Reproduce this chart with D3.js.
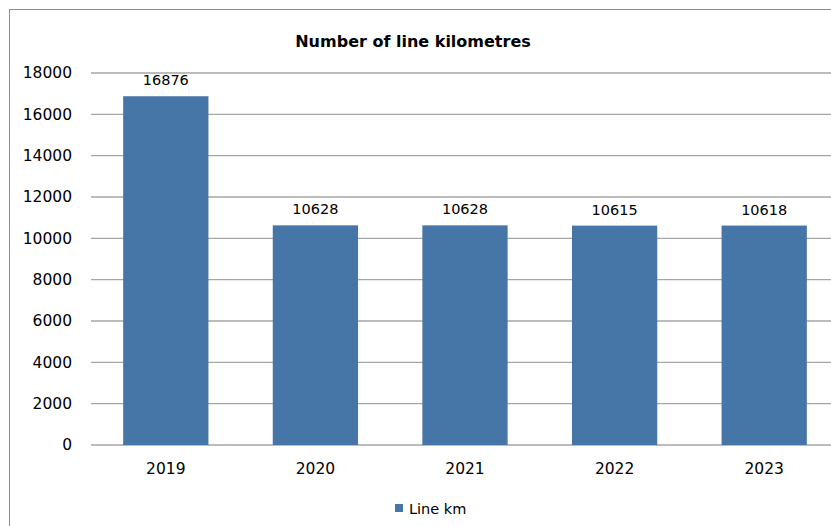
<!DOCTYPE html>
<html>
<head>
<meta charset="utf-8">
<script src="https://cdn.jsdelivr.net/npm/d3@7"></script>
<style>
  html, body { margin: 0; padding: 0; background: #fff; }
  svg { display: block; }
</style>
</head>
<body>
<svg id="chart" width="831" height="526"></svg>
<script>
// Annual line length data
const years = ["2019", "2020", "2021", "2022", "2023"];
const lineKm = [16876, 10628, 10628, 10615, 10618];
const yTicks = [0, 2000, 4000, 6000, 8000, 10000, 12000, 14000, 16000, 18000];
const chartTitle = "Number of line kilometres";
const seriesName = "Line km";

const svg = d3.select("#chart");
const font = "Tahoma, 'DejaVu Sans', Verdana, sans-serif";
const barColor = "#4675a8";

// Outer chart frame
svg.append("rect")
  .attr("x", 9.5).attr("y", 9.5)
  .attr("width", 900).attr("height", 600)
  .attr("fill", "#fff").attr("stroke", "#8c8c8c").attr("stroke-width", 1);

const plot = { left: 91, right: 839, top: 73, bottom: 445 };

const x = d3.scaleBand()
  .domain(years)
  .range([plot.left, plot.right])
  .paddingInner(0.43)
  .paddingOuter(0.215);

const y = d3.scaleLinear()
  .domain([0, 18000])
  .range([plot.bottom, plot.top]);

// Horizontal gridlines
svg.append("g").selectAll("line")
  .data(yTicks)
  .join("line")
  .attr("x1", plot.left).attr("x2", plot.right)
  .attr("y1", d => y(d)).attr("y2", d => y(d))
  .attr("stroke", "#a6a6a6").attr("stroke-width", 1.3);

// Y axis labels
const yAxis = d3.axisLeft(y).tickValues(yTicks).tickSize(0).tickPadding(19).tickFormat(d3.format("d"));
const gy = svg.append("g").attr("transform", `translate(${plot.left},0)`).call(yAxis);
gy.select(".domain").remove();
gy.selectAll("text").attr("font-family", font).attr("font-size", 15.5).attr("fill", "#000");

// Bars
svg.append("g").selectAll("rect")
  .data(years.map((yr, i) => ({ yr, v: lineKm[i] })))
  .join("rect")
  .attr("x", d => x(d.yr))
  .attr("y", d => y(d.v))
  .attr("width", x.bandwidth())
  .attr("height", d => y(0) - y(d.v))
  .attr("fill", barColor);

// Value labels above bars
svg.append("g").selectAll("text")
  .data(years.map((yr, i) => ({ yr, v: lineKm[i] })))
  .join("text")
  .attr("x", d => x(d.yr) + x.bandwidth() / 2)
  .attr("y", d => y(d.v) - 11)
  .attr("text-anchor", "middle")
  .attr("font-family", font).attr("font-size", 14.5).attr("fill", "#000")
  .text(d => d.v);

// X axis labels
const xAxis = d3.axisBottom(x).tickSize(0).tickPadding(18);
const gx = svg.append("g").attr("transform", `translate(0,${plot.bottom})`).call(xAxis);
gx.select(".domain").remove();
gx.selectAll("text").attr("font-family", font).attr("font-size", 15.5).attr("fill", "#000");

// Title
svg.append("text")
  .attr("x", 413).attr("y", 47)
  .attr("text-anchor", "middle")
  .attr("font-family", font).attr("font-size", 16).attr("font-weight", "bold")
  .attr("fill", "#000")
  .text(chartTitle);

// Legend
const legend = svg.append("g").attr("transform", "translate(395,504)");
legend.append("rect").attr("width", 8).attr("height", 8).attr("fill", barColor);
legend.append("text")
  .attr("x", 14).attr("y", 9.5)
  .attr("font-family", font).attr("font-size", 14.5).attr("fill", "#000")
  .text(seriesName);
</script>
</body>
</html>
